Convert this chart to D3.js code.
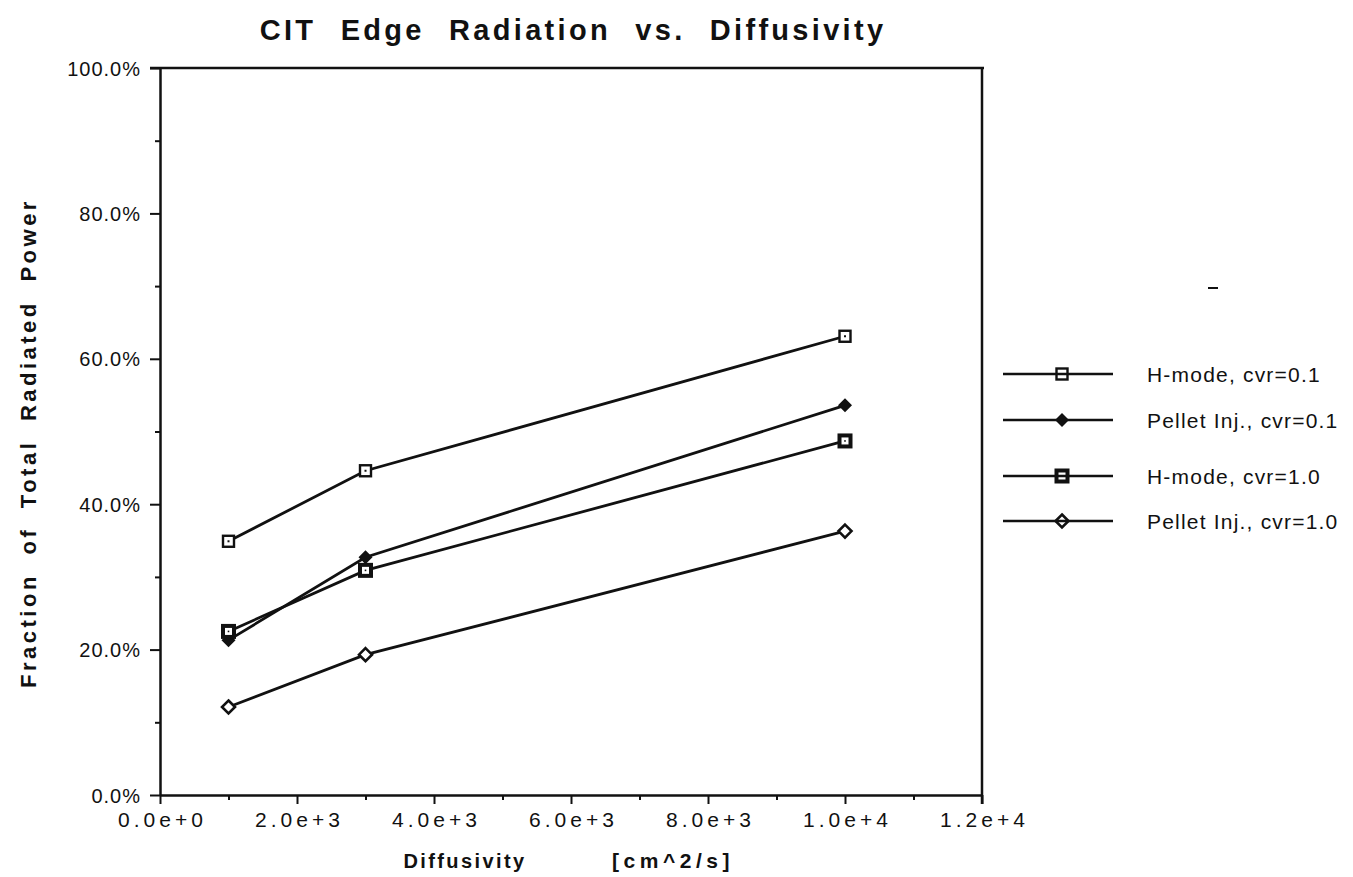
<!DOCTYPE html>
<html><head><meta charset="utf-8">
<script src="https://cdn.jsdelivr.net/npm/d3@7"></script>
<style>body{margin:0;background:#fff;} text{font-family:"Liberation Sans",Arial,sans-serif;fill:#111;}</style>
</head><body>
<svg id="chart" width="1353" height="877"></svg>
<script>
const diffusivity = [1000, 3000, 10000];
const seriesNames = ["H-mode, cvr=0.1", "Pellet Inj., cvr=0.1", "H-mode, cvr=1.0", "Pellet Inj., cvr=1.0"];
const hmode01 = [34.9, 44.6, 63.1];
const pellet01 = [21.3, 32.7, 53.6];
const hmode10 = [22.5, 30.9, 48.7];
const pellet10 = [12.1, 19.3, 36.3];
const markerTypes = ["openSquare", "filledDiamond", "boldSquare", "openDiamond"];
const xTicks = [0, 2000, 4000, 6000, 8000, 10000, 12000];
const xTickLabels = ["0.0e+0", "2.0e+3", "4.0e+3", "6.0e+3", "8.0e+3", "1.0e+4", "1.2e+4"];
const yTicks = [0, 20, 40, 60, 80, 100];
const yTickLabels = ["0.0%", "20.0%", "40.0%", "60.0%", "80.0%", "100.0%"];

const allSeries = [hmode01, pellet01, hmode10, pellet10];
const svg = d3.select("#chart");
const L = 160, R = 982, T = 68, B = 795;
const x = d3.scaleLinear().domain([0, 12000]).range([L, R]);
const y = d3.scaleLinear().domain([0, 100]).range([B, T]);

// frame
svg.append("line").attr("x1", L - 10).attr("x2", R + 2).attr("y1", T).attr("y2", T).attr("stroke", "#111").attr("stroke-width", 2.5);
svg.append("line").attr("x1", R).attr("x2", R).attr("y1", T).attr("y2", B + 9).attr("stroke", "#111").attr("stroke-width", 2.5);

// x axis
const xAxis = svg.append("g").attr("transform", `translate(0,${B})`)
  .call(d3.axisBottom(x).tickValues(xTicks).tickFormat((d, i) => xTickLabels[i]).tickSize(9).tickSizeOuter(0));
xAxis.select(".domain").attr("stroke", "#111").attr("stroke-width", 2.5);
xAxis.selectAll(".tick line").attr("stroke", "#111").attr("stroke-width", 2);
xAxis.selectAll(".tick text").attr("font-size", 21).attr("letter-spacing", "4px").attr("dx", "2").attr("y", 13).attr("dy", "0.9em").attr("font-family", "Liberation Sans, Arial").attr("fill", "#111");
const xMinor = svg.append("g").attr("transform", `translate(0,${B})`)
  .call(d3.axisBottom(x).tickValues(d3.range(1000, 12000, 2000)).tickFormat("").tickSize(5));
xMinor.select(".domain").remove();
xMinor.selectAll(".tick line").attr("stroke", "#111").attr("stroke-width", 2);

// y axis
const yAxis = svg.append("g").attr("transform", `translate(${L},0)`)
  .call(d3.axisLeft(y).tickValues(yTicks).tickFormat((d, i) => yTickLabels[i]).tickSize(10).tickSizeOuter(0));
yAxis.select(".domain").attr("stroke", "#111").attr("stroke-width", 2.5);
yAxis.selectAll(".tick line").attr("stroke", "#111").attr("stroke-width", 2);
yAxis.selectAll(".tick text").attr("font-size", 20).attr("letter-spacing", "1px").attr("x", -19).attr("dy", "0.35em").attr("font-family", "Liberation Sans, Arial").attr("fill", "#111");
const yMinor = svg.append("g").attr("transform", `translate(${L},0)`)
  .call(d3.axisLeft(y).tickValues(d3.range(10, 100, 20)).tickFormat("").tickSize(5));
yMinor.select(".domain").remove();
yMinor.selectAll(".tick line").attr("stroke", "#111").attr("stroke-width", 2);

// lines
const line = d3.line().x((d, i) => x(diffusivity[i])).y(d => y(d));
allSeries.forEach(s => {
  svg.append("path").attr("d", line(s)).attr("fill", "none").attr("stroke", "#111").attr("stroke-width", 2.8);
});

function drawMarker(g, type, cx, cy) {
  if (type === "openSquare") {
    g.append("rect").attr("x", cx - 5.5).attr("y", cy - 5.5).attr("width", 11).attr("height", 11).attr("fill", "#fff").attr("stroke", "#111").attr("stroke-width", 2.4);
    g.append("rect").attr("x", cx - 1).attr("y", cy - 1).attr("width", 2).attr("height", 2).attr("fill", "#111");
  } else if (type === "boldSquare") {
    g.append("rect").attr("x", cx - 5.5).attr("y", cy - 5.5).attr("width", 11).attr("height", 11).attr("fill", "#fff").attr("stroke", "#111").attr("stroke-width", 4);
    g.append("rect").attr("x", cx - 0.8).attr("y", cy - 0.8).attr("width", 1.6).attr("height", 1.6).attr("fill", "#111");
  } else if (type === "filledDiamond") {
    g.append("path").attr("d", `M${cx},${cy - 7}L${cx + 7},${cy}L${cx},${cy + 7}L${cx - 7},${cy}Z`).attr("fill", "#111");
  } else {
    g.append("path").attr("d", `M${cx},${cy - 6.5}L${cx + 6.5},${cy}L${cx},${cy + 6.5}L${cx - 6.5},${cy}Z`).attr("fill", "#fff").attr("stroke", "#111").attr("stroke-width", 2.6);
  }
}
const mg = svg.append("g");
allSeries.forEach((s, k) => s.forEach((v, i) => drawMarker(mg, markerTypes[k], x(diffusivity[i]), y(v))));

// legend
const legendY = [374, 420, 476, 521];
seriesNames.forEach((name, k) => {
  const ly = legendY[k];
  svg.append("line").attr("x1", 1003).attr("x2", 1113).attr("y1", ly).attr("y2", ly).attr("stroke", "#111").attr("stroke-width", 2.6);
  drawMarker(mg, markerTypes[k], 1062, ly);
  svg.append("text").attr("x", 1147).attr("y", ly).attr("dy", "0.36em").attr("font-size", 21).attr("letter-spacing", "1.2px").text(name);
});

// stray mark
svg.append("line").attr("x1", 1208).attr("x2", 1218).attr("y1", 288).attr("y2", 288).attr("stroke", "#111").attr("stroke-width", 2);

// title
svg.append("text").attr("x", 573).attr("y", 40).attr("text-anchor", "middle").attr("font-size", 29).attr("font-weight", "bold")
  .attr("letter-spacing", "3.3px").attr("word-spacing", "13px").text("CIT Edge Radiation vs. Diffusivity");

// axis titles
svg.append("text").attr("x", 465).attr("y", 868).attr("text-anchor", "middle").attr("font-size", 20).attr("font-weight", "bold").attr("letter-spacing", "2.4px").text("Diffusivity");
svg.append("text").attr("x", 673).attr("y", 868).attr("text-anchor", "middle").attr("font-size", 21).attr("font-weight", "bold").attr("letter-spacing", "4.5px").text("[cm^2/s]");
svg.append("text").attr("transform", "translate(36,443) rotate(-90)").attr("text-anchor", "middle").attr("font-size", 22).attr("font-weight", "bold")
  .attr("letter-spacing", "3.5px").attr("word-spacing", "9px").text("Fraction of Total Radiated Power");
</script>
</body></html>
